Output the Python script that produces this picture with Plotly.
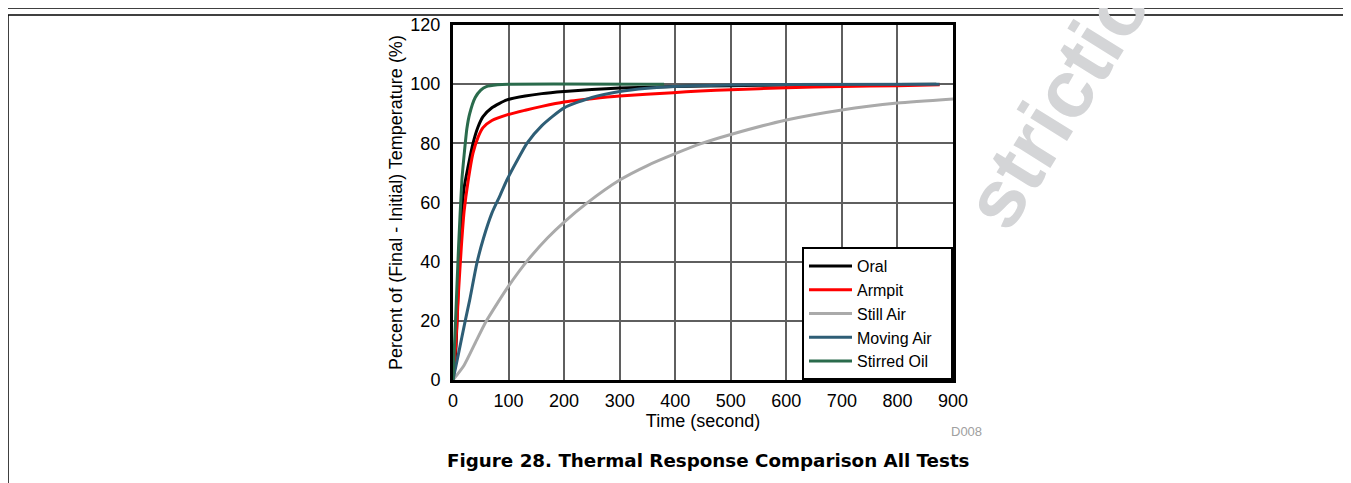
import plotly.graph_objects as go

# ---- data ----
t_oral = [0, 5, 10, 15, 20, 27, 36, 45, 54, 70, 97, 130, 160, 200, 250, 300, 400, 500, 600, 700, 800, 870]
v_oral = [0, 10, 35, 55, 65, 72, 80, 85.5, 89, 92, 94.7, 96, 96.8, 97.5, 98.2, 98.7, 99.2, 99.5, 99.7, 99.8, 99.9, 100]

t_armpit = [0, 5, 10, 15, 20, 27, 36, 45, 54, 70, 97, 130, 160, 200, 250, 300, 396, 445, 500, 600, 700, 800, 876]
v_armpit = [0, 12, 30, 45, 57, 67, 76.7, 82, 85.3, 87.7, 89.6, 91.2, 92.5, 94, 95.1, 96, 97.1, 97.7, 98.1, 98.8, 99.2, 99.5, 99.8]

t_still = [0, 20, 40, 58, 80, 99, 135, 170, 200, 241, 300, 350, 400, 445, 500, 600, 700, 800, 900]
v_still = [0, 5, 12.5, 19.3, 26, 31.5, 40.6, 48, 53.4, 59.8, 67.6, 72.5, 76.5, 79.8, 83, 87.9, 91.3, 93.6, 95]

t_moving = [0, 10, 22, 30, 43, 55, 70, 85, 97, 115, 133, 160, 200, 250, 300, 350, 396, 500, 600, 876]
v_moving = [0, 9, 20, 27, 39.5, 48, 56.4, 62.5, 67.6, 74, 80, 86, 92, 95.5, 97.5, 98.6, 99.2, 99.7, 99.9, 100]

t_oil = [0, 5, 10, 16, 20, 25, 30, 40, 50, 60, 80, 100, 380]
v_oil = [0, 22, 45, 67.6, 76, 85, 90, 95.5, 98, 99.2, 99.8, 100, 100]

series_names = ["Oral", "Armpit", "Still Air", "Moving Air", "Stirred Oil"]
series_t = [t_oral, t_armpit, t_still, t_moving, t_oil]
series_v = [v_oral, v_armpit, v_still, v_moving, v_oil]
series_colors = ["#000000", "#ff0000", "#aaaaaa", "#2e5e76", "#2a6b4c"]

x_ticks = [0, 100, 200, 300, 400, 500, 600, 700, 800, 900]
y_ticks = [0, 20, 40, 60, 80, 100, 120]

FONT = "Liberation Sans, Arial, sans-serif"

# page coordinates of the reference; the html body adds an 8px offset
OFF = 8
PAGE_W, PAGE_H = 1351, 483
L, R, T, B = 453, 953, 25, 380
W, H = PAGE_W - OFF, PAGE_H - OFF

PAD = "\u00a0" * 3

fig = go.Figure()
for name, t, v, c in zip(series_names, series_t, series_v, series_colors):
    fig.add_trace(go.Scatter(x=t, y=v, mode="lines", name=name + PAD,
                             line=dict(color=c, width=3, shape="spline", smoothing=0.6)))


def px(x):
    return (x - L) / (R - L)


def py(y):
    return (B - y) / (B - T)


fig.update_layout(
    width=W, height=H,
    margin=dict(l=L - OFF, r=PAGE_W - R, t=T - OFF, b=PAGE_H - B, pad=0, autoexpand=False),
    paper_bgcolor="white", plot_bgcolor="white",
    font=dict(family=FONT, color="black", size=18),
    showlegend=True,
    legend=dict(x=1, y=0, xanchor="right", yanchor="bottom",
                bgcolor="white", bordercolor="black", borderwidth=2,
                font=dict(size=16, family=FONT), itemwidth=43),
    xaxis=dict(range=[0, 900], tickvals=x_ticks, showgrid=True, gridcolor="#5f5f5f", gridwidth=1.5,
               showline=True, linecolor="black", linewidth=3, mirror=True, ticks="",
               tickfont=dict(size=18), zeroline=False, ticklabelstandoff=2, automargin=False,
               title=dict(text="Time (second)", font=dict(size=18), standoff=0)),
    yaxis=dict(range=[0, 120], tickvals=y_ticks, showgrid=True, gridcolor="#5f5f5f", gridwidth=1.5,
               showline=True, linecolor="black", linewidth=3, mirror=True, ticks="",
               tickfont=dict(size=18), zeroline=False, ticklabelstandoff=6, automargin=False,
               title=dict(text="Percent of (Final - Initial) Temperature (%)", font=dict(size=18), standoff=4)),
)

# caption
fig.add_annotation(text="<b>Figure 28. Thermal Response Comparison All Tests</b>",
                   xref="paper", yref="paper", x=px(708), y=py(461),
                   xanchor="center", yanchor="middle",
                   showarrow=False, font=dict(size=18.3, family="DejaVu Sans, sans-serif"))
fig.add_annotation(text="D008", xref="paper", yref="paper", x=px(966), y=py(431),
                   xanchor="center", yanchor="middle",
                   showarrow=False, font=dict(size=13, color="#a0a0a0", family=FONT))

# watermark fragment
fig.add_annotation(text="<b>strictio</b>", xref="paper", yref="paper", x=px(1056), y=py(104),
                   xanchor="center", yanchor="middle",
                   showarrow=False, textangle=-58,
                   font=dict(size=82, color="#d4d5d7", family=FONT))

# page frame lines
frame = [
    (8, 1351, 8, 8), (8, 8, 0, 8), (678, 678, 0, 8),
    (8, 1351, 15, 15), (8, 8, 15, 483),
]
for x0, x1, y0, y1 in frame:
    fig.add_shape(type="line", xref="paper", yref="paper",
                  x0=px(x0), x1=px(x1), y0=py(y0), y1=py(y1),
                  line=dict(color="black", width=1.5))

fig.write_html("out.html")
